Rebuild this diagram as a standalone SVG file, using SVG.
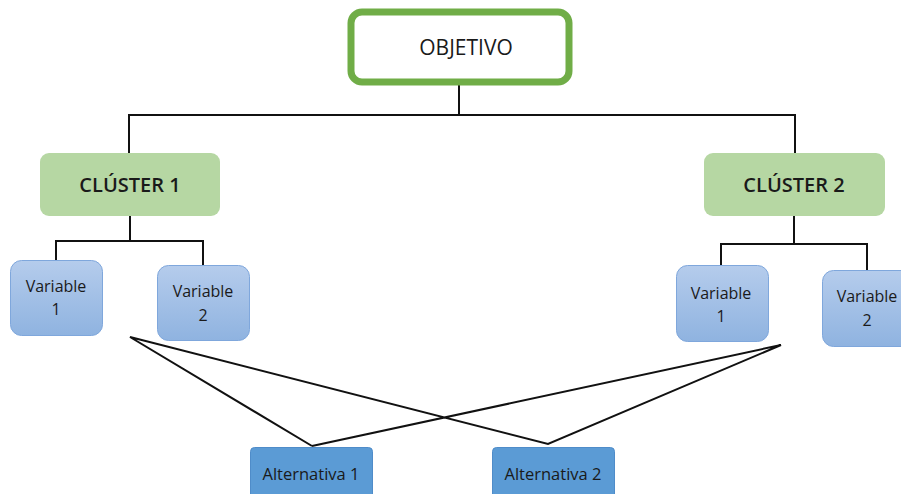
<svg xmlns="http://www.w3.org/2000/svg" width="901" height="494" viewBox="0 0 901 494">
<defs>
<linearGradient id="vg" x1="0" y1="0" x2="0" y2="1">
<stop offset="0" stop-color="#B5CCEC"/>
<stop offset="1" stop-color="#8FB3E0"/>
</linearGradient>
<style>
text{font-family:"Open Sans","Liberation Sans",sans-serif;fill:#1a1a1a;text-anchor:middle}
.obj{fill:#fff;stroke:#70AD47;stroke-width:7}
.cl{fill:#B6D7A3}
.cl-t{font-size:20px;font-weight:600}
.var{fill:url(#vg);stroke:#7FA7DC;stroke-width:1}
.var-t{font-size:16px}
.alt{fill:#5B9BD5;stroke:#4F8CC9;stroke-width:1}
.alt-t{font-size:16.5px}
.ln{fill:none;stroke:#111;stroke-width:2}
</style>
</defs>
<g id="connectors">
<path class="ln" d="M459 85V115M129 115H795M129 114V153M795 114V153"/>
<path class="ln" d="M130 216V241M56 241H204M56 240V260M203 240V265"/>
<path class="ln" d="M794 216V244M721 244H868M721 243V265M867 243V270"/>
<path class="ln" d="M312 446L130 337L548 444L781 345L312 446"/>
</g>
<g id="objetivo">
<rect class="obj" x="351" y="12" width="218" height="70" rx="11"/>
<text x="466" y="55" style="font-size:21px">OBJETIVO</text>
</g>
<g id="cluster1">
<rect class="cl" x="40" y="153" width="180" height="63" rx="9"/>
<text class="cl-t" x="130" y="192">CLÚSTER 1</text>
</g>
<g id="cluster2">
<rect class="cl" x="704" y="153" width="181" height="63" rx="9"/>
<text class="cl-t" x="794" y="192">CLÚSTER 2</text>
</g>
<g id="c1-var1">
<rect class="var" x="10.5" y="260.5" width="92" height="75" rx="11"/>
<text class="var-t" x="56" y="292">Variable</text>
<text class="var-t" x="56" y="315">1</text>
</g>
<g id="c1-var2">
<rect class="var" x="157.5" y="265.5" width="92" height="75" rx="11"/>
<text class="var-t" x="203" y="297">Variable</text>
<text class="var-t" x="203" y="321">2</text>
</g>
<g id="c2-var1">
<rect class="var" x="676.5" y="265.5" width="92" height="76" rx="11"/>
<text class="var-t" x="721" y="299">Variable</text>
<text class="var-t" x="721" y="322">1</text>
</g>
<g id="c2-var2">
<rect class="var" x="822.5" y="270.5" width="92" height="76" rx="11"/>
<text class="var-t" x="867" y="302">Variable</text>
<text class="var-t" x="867" y="326">2</text>
</g>
<g id="alt1">
<rect class="alt" x="250.5" y="447.5" width="122" height="56" rx="4"/>
<text class="alt-t" x="311" y="480">Alternativa 1</text>
</g>
<g id="alt2">
<rect class="alt" x="492.5" y="447.5" width="122" height="56" rx="4"/>
<text class="alt-t" x="553" y="480">Alternativa 2</text>
</g>
</svg>
